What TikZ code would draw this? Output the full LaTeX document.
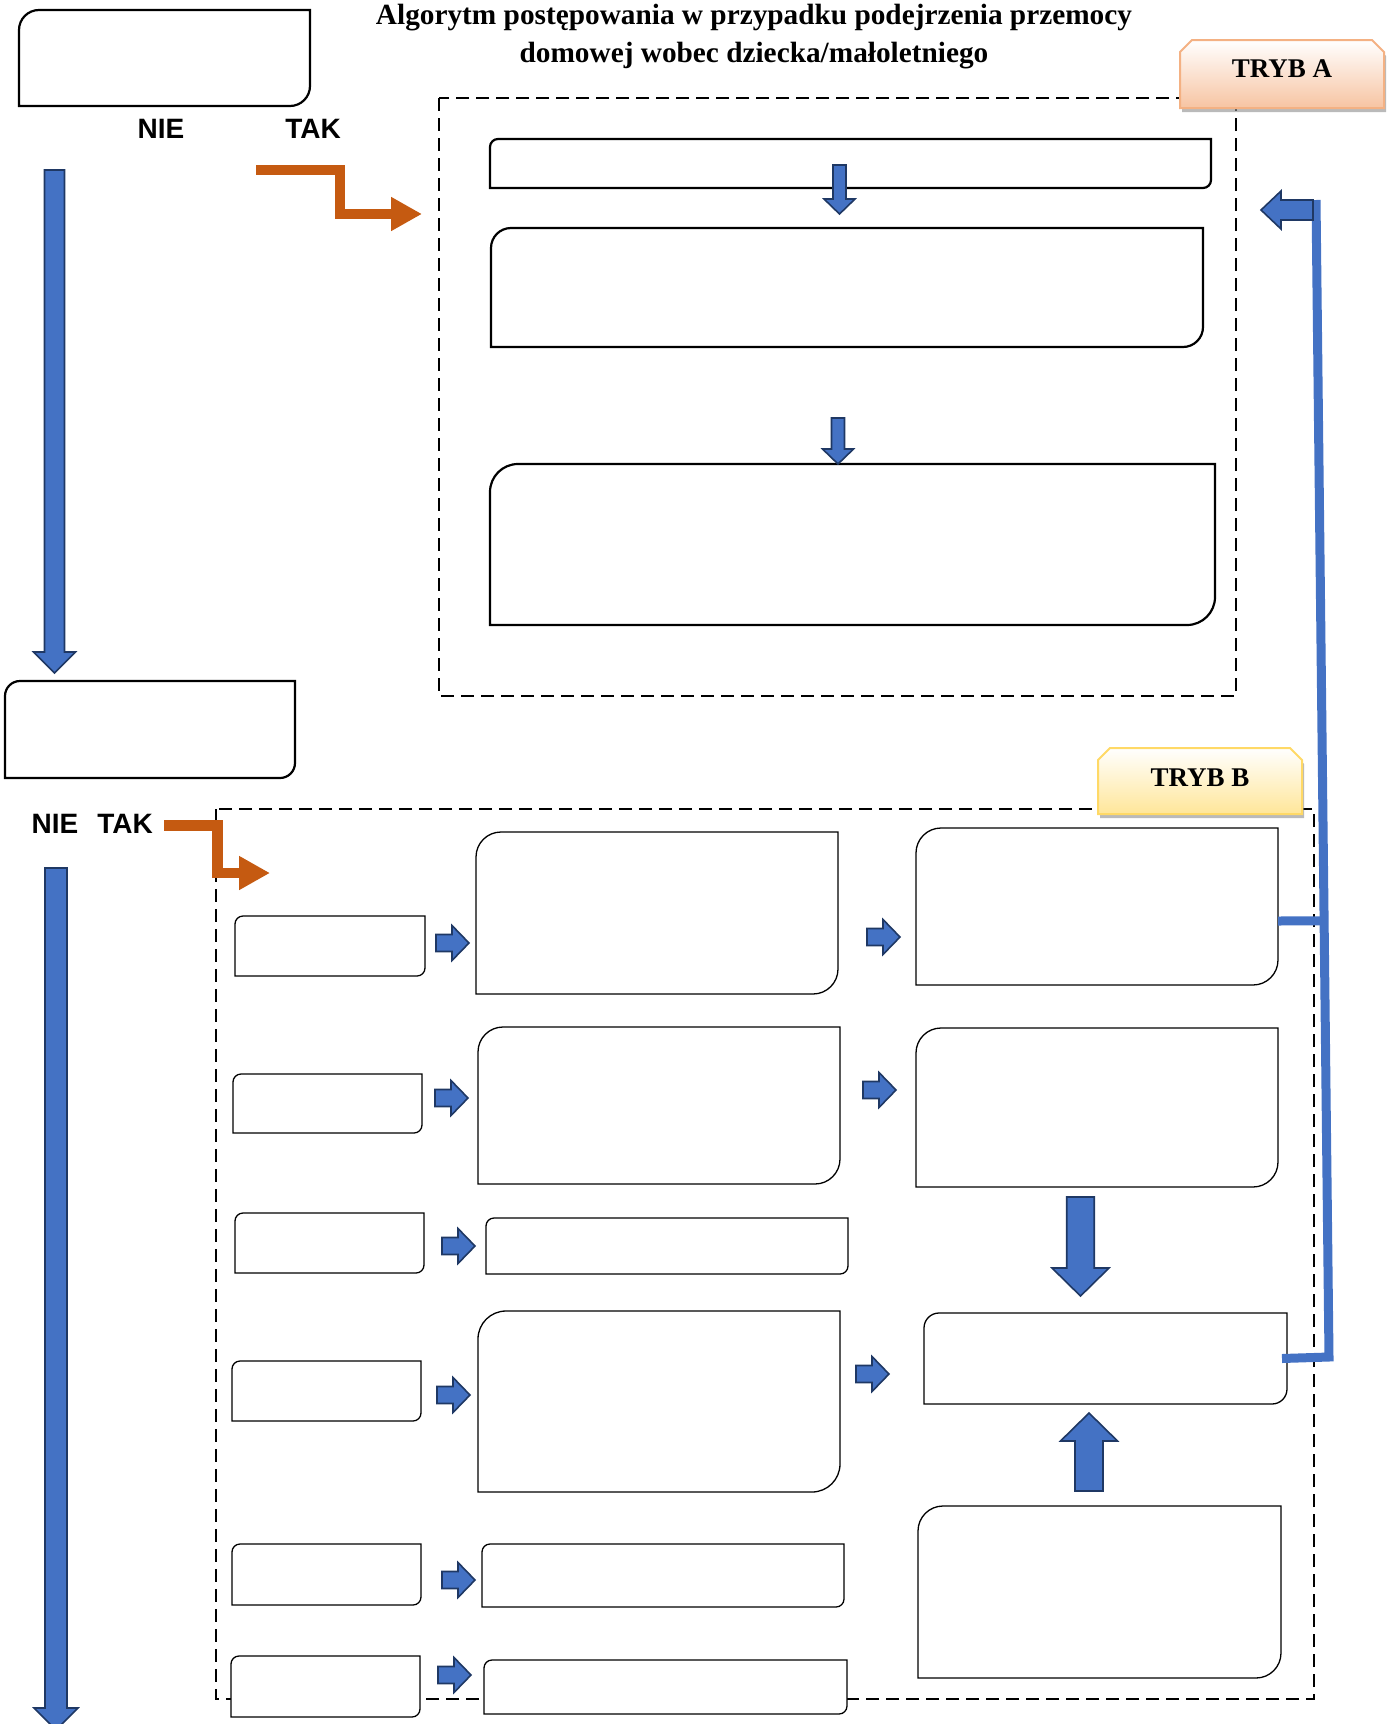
\documentclass[tikz,border=0pt]{standalone}
\usepackage{fontspec}
\setmainfont{Liberation Serif}
\newfontfamily\arialfont{Liberation Sans}
\usetikzlibrary{arrows.meta,shadows,calc}

\definecolor{ofblue}{HTML}{4472C4}
\definecolor{ofnavy}{HTML}{1F3864}
\definecolor{oforange}{HTML}{C55A11}
\definecolor{tabAline}{HTML}{F4B183}
\definecolor{tabAfill}{HTML}{F7C4A2}
\definecolor{tabBline}{HTML}{FFD966}
\definecolor{tabBfill}{HTML}{FFE699}

\tikzset{
  boxnode/.style={rectangle,inner sep=0pt,outer sep=0pt},
  thickframe/.style={draw=black,line width=2.2pt,fill=white},
  thinframe/.style={draw=black,line width=1.3pt,fill=white},
  dashframe/.style={draw=black,line width=1.8pt,dash pattern=on 13pt off 7pt},
  arrowfill/.style={fill=ofblue,draw=ofnavy,line width=1.6pt,line join=miter},
  elbow/.style={draw=oforange,line width=10.5pt,line join=miter,-{Triangle[width=32pt,length=31pt]}},
  backline/.style={draw=ofblue,line width=9pt,line join=miter},
  tabA/.style={draw=tabAline,line width=2pt,top color=white,bottom color=tabAfill,
    drop shadow={shadow xshift=2pt,shadow yshift=-4pt,fill=black!45,opacity=0.6}},
  tabB/.style={draw=tabBline,line width=2pt,top color=white,bottom color=tabBfill,
    drop shadow={shadow xshift=2pt,shadow yshift=-4pt,fill=black!45,opacity=0.6}},
  yesno/.style={font=\arialfont\bfseries\fontsize{28}{28}\selectfont,inner sep=0pt},
  tabtext/.style={font=\bfseries\fontsize{27}{27}\selectfont,inner sep=0pt},
  pics/barrow/.style n args={4}{code={
    \draw[arrowfill] (0,-#3) -- ({#1-#2},-#3) -- ({#1-#2},-#4) -- (#1,0)
      -- ({#1-#2},#4) -- ({#1-#2},#3) -- (0,#3) -- cycle;}},
}

% box with rounded top-left and bottom-right corners
\newcommand{\diagframe}[3]{%
  \draw[#3] (#1.south west) -- ([yshift=-#2 pt]#1.north west)
    arc[start angle=180,end angle=90,radius=#2] -- (#1.north east)
    -- ([yshift=#2 pt]#1.south east)
    arc[start angle=0,end angle=-90,radius=#2] -- cycle;}

\begin{document}
\begin{tikzpicture}[x=1pt,y=1pt]
	\useasboundingbox (0,0) rectangle (1395,-1724);
	\node[font=\bfseries\fontsize{29.3}{38}\selectfont,align=center] (title) at (754,-37)
		{Algorytm postępowania w przypadku podejrzenia przemocy\\domowej wobec dziecka/małoletniego};

	% dashed frames
	\draw[dashframe] (439,-98) rectangle (1236,-696);
	\draw[dashframe] (216,-809) rectangle (1314,-1699);

	% tabs
	\path[tabA] (1180,-108) -- (1180,-52) -- (1192,-40) -- (1372,-40) -- (1384,-52) -- (1384,-108) -- cycle;
	\node[tabtext] (trybA) at (1282,-69) {TRYB A};
	\path[tabB] (1098,-814) -- (1098,-760) -- (1110,-748) -- (1290,-748) -- (1302,-760) -- (1302,-814) -- cycle;
	\node[tabtext] (trybB) at (1200,-778) {TRYB B};

	% boxes, thick line
	\foreach \n/\xa/\ya/\xb/\yb/\rad in {q1/19/10/310/106/20, q2/5/681/295/778/15,
		a1/490/139/1211/188/8, a2/491/228/1203/347/20, a3/490/464/1215/625/28}{
		\node[boxnode,minimum width={(\xb-\xa)*1pt},minimum height={(\yb-\ya)*1pt}] (\n) at ({(\xa+\xb)/2},{-(\ya+\yb)/2}) {};
		\diagframe{\n}{\rad}{thickframe}
	}
	% boxes, thin line
	\foreach \n/\xa/\ya/\xb/\yb/\rad in {b11/235/916/425/976/8, b12/476/832/838/994/25, b13/916/828/1278/985/25,
		b21/233/1074/422/1133/8, b22/478/1027/840/1184/25, b23/916/1028/1278/1187/25,
		b31/235/1213/424/1273/8, b32/486/1218/848/1274/8,
		b41/232/1361/421/1421/8, b42/478/1311/840/1492/28, b43/924/1313/1287/1404/15,
		b51/232/1544/421/1605/8, b52/482/1544/844/1607/8, b53/918/1506/1281/1678/25,
		b61/231/1656/420/1717/8, b62/484/1660/847/1714/8}{
		\node[boxnode,minimum width={(\xb-\xa)*1pt},minimum height={(\yb-\ya)*1pt}] (\n) at ({(\xa+\xb)/2},{-(\ya+\yb)/2}) {};
		\diagframe{\n}{\rad}{thinframe}
	}

	% NIE / TAK
	\node[yesno] (nie1) at (161,-129) {NIE};
	\node[yesno] (tak1) at (313,-129) {TAK};
	\node[yesno] (nie2) at (55,-824) {NIE};
	\node[yesno] (tak2) at (125,-824) {TAK};

	% orange arrows
	\coordinate (orA) at (256,-170);
	\coordinate (inA) at (422,-214);
	\draw[elbow] (orA) -- ++(84,0) |- (inA);
	\coordinate (orB) at (164,-825.5);
	\coordinate (inB) at (270,-873);
	\draw[elbow] (orB) -- ++(53.5,0) |- (inB);

	% return line to TRYB A
	\coordinate (bend) at (1329,-1357);
	\coordinate (rtop) at (1316,-200);
	\draw[backline] ([xshift=-5pt]b43.east) -- (bend) -- (rtop);
	\draw[backline] ([yshift=-14.5pt]b13.east) -- ($(rtop)!0.623!(bend)$);
	\pic[rotate=180] at (1313,-210) {barrow={52}{20}{10}{19}};

	% blue block arrows
	\pic[rotate=-90] at (54.5,-170) {barrow={503}{21}{10}{21}};
	\pic[rotate=-90] at (56,-868) {barrow={862}{22}{11}{22}};
	\pic[rotate=-90] at (839.5,-165) {barrow={49}{15}{6.5}{15.5}};
	\pic[rotate=-90] at (838,-418) {barrow={46}{15}{6.5}{15.5}};
	\pic[rotate=-90] at (1080.5,-1197) {barrow={99}{28}{13.75}{28.5}};
	\pic[rotate=90] at (1089,-1491) {barrow={78}{28}{14}{28.5}};
	\foreach \x/\y in {436/943, 867/937, 435/1098, 863/1090, 442/1246, 437/1395, 856/1374, 442/1580, 438/1675}
	\pic at (\x,-\y) {barrow={33}{17}{8.5}{17.5}};
\end{tikzpicture}
\end{document}
